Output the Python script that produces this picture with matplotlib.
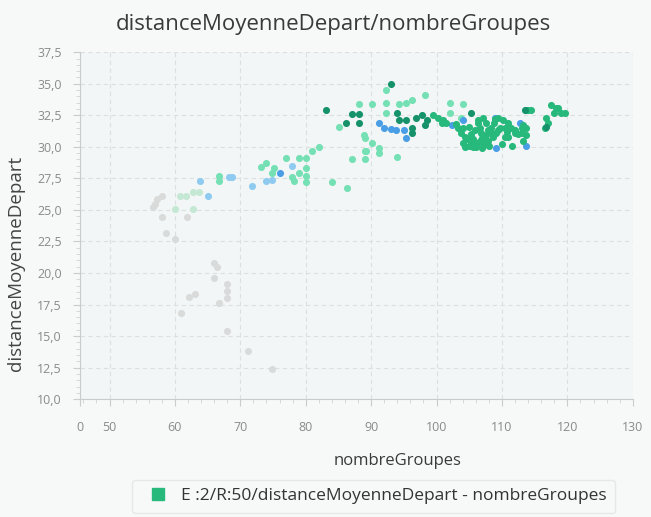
import matplotlib.pyplot as plt
from matplotlib.ticker import MultipleLocator, FuncFormatter

plt.rcParams['font.family'] = ['Open Sans', 'DejaVu Sans']

# nombreGroupes / distanceMoyenneDepart, grouped by point colour
grey_x = [57.2, 58.0, 56.6, 56.9, 58.0, 58.7, 60.0, 61.8, 66.0, 66.5, 66.0,
          68.0, 68.0, 68.0, 66.8, 63.0, 62.1, 61.0, 68.0, 71.1, 74.9]
grey_y = [25.9, 26.1, 25.2, 25.5, 24.4, 23.2, 22.7, 24.4, 20.8, 20.5, 19.6,
          19.1, 18.6, 18.0, 17.6, 18.3, 18.1, 16.8, 15.4, 13.8, 12.4]

pale_x = [60.0, 62.7, 60.8, 61.7, 62.8, 63.7]
pale_y = [25.1, 25.1, 26.1, 26.1, 26.4, 26.4]

lightblue_x = [63.8, 65.0, 68.3, 68.8, 71.8, 74.0, 74.9, 77.9]
lightblue_y = [27.3, 26.1, 27.6, 27.6, 26.9, 27.3, 27.4, 28.5]

blue_x = [76.1, 91.2, 91.9, 93.0, 93.8, 95.0, 95.3, 102.3, 105.2, 109.0,
          109.1, 112.8, 113.6, 104.1]
blue_y = [27.9, 31.9, 31.5, 31.4, 31.3, 31.3, 30.7, 31.7, 30.75, 32.3,
          29.9, 31.9, 30.1, 32.1]

aqua_x = [66.8, 66.8, 73.2, 74.0, 75.2, 74.9, 77.0, 77.9, 78.2, 79.0, 80.0,
          80.0, 80.0, 80.0, 79.0, 81.0, 82.0, 84.0, 86.3, 87.0, 89.0, 89.0,
          89.0, 85.1, 88.1, 90.1, 92.2, 92.2, 92.2, 94.2, 95.4, 96.2, 98.3,
          88.9, 90.1, 89.2, 91.2, 91.2, 93.9, 102.1, 104.1, 102.1, 103.8]
aqua_y = [27.3, 27.7, 28.4, 28.7, 28.3, 27.9, 29.1, 27.6, 27.3, 29.1, 29.1,
          28.3, 27.7, 27.2, 27.9, 29.7, 30.0, 27.2, 26.7, 29.0, 29.7, 29.0,
          30.7, 31.6, 33.4, 33.4, 33.5, 34.5, 32.7, 33.4, 33.45, 33.7, 34.1,
          30.9, 30.3, 29.7, 29.9, 29.5, 29.2, 33.45, 33.4, 32.65, 32.3]

dark_x = [83.1, 86.1, 87.0, 88.1, 88.1, 93.1, 94.0, 94.2, 95.4, 96.8, 97.7,
          98.5, 98.3, 96.2, 96.2, 105.3, 116.8, 113.5]
dark_y = [32.9, 31.9, 32.6, 32.6, 31.9, 35.0, 32.7, 32.1, 32.1, 32.3, 32.5,
          32.1, 31.7, 31.1, 31.5, 32.65, 31.6, 32.9]

green_x = [99.5, 100.8, 101.5, 103.3, 103.8, 104.4, 104.1, 105.3, 105.9,
           106.4, 107.1, 107.6, 107.9, 106.8, 106.7, 107.1, 107.9, 108.4,
           109.4, 110.2, 109.7, 109.1, 108.7, 110.5, 111.0, 111.4, 111.0,
           112.0, 113.2, 113.7, 113.0, 113.6, 114.0, 114.5, 116.6, 116.7,
           117.5, 118.2, 119.0, 118.0, 118.6, 119.6, 117.0, 113.7, 113.2,
           104.9, 106.4, 107.4, 109.0, 109.4, 110.5, 112.0, 113.0, 104.1,
           105.2, 106.0, 107.0, 110.0, 111.5, 108.0, 105.5,
           104.6, 105.6, 106.2, 106.9, 107.6, 108.3, 105.0, 106.6, 108.8,
           104.3, 110.8, 112.4, 103.0, 101.0, 100.2]
green_y = [32.5, 31.9, 31.9, 31.5, 31.1, 30.75, 30.3, 30.3, 31.3, 31.9,
           32.3, 31.9, 31.3, 31.1, 30.5, 30.1, 30.5, 31.5, 32.3, 32.1, 31.5,
           31.1, 30.75, 31.5, 31.9, 31.5, 30.75, 31.1, 31.7, 31.5, 31.1,
           32.9, 32.9, 32.9, 31.5, 32.3, 33.3, 33.05, 32.7, 32.7, 33.1, 32.7,
           31.9, 30.9, 30.5, 30.1, 32.1, 30.35, 32.2, 31.3, 30.75, 31.3,
           31.5, 31.5, 31.0, 30.0, 29.9, 30.2, 30.1, 30.1, 30.0,
           30.6, 30.6, 30.3, 30.7, 30.9, 31.1, 31.6, 31.5, 31.9,
           30.0, 31.2, 31.0, 31.8, 32.1, 32.3]

x_ticks = [45.5, 50, 60, 70, 80, 90, 100, 110, 120, 130]
x_labels = ['0', '50', '60', '70', '80', '90', '100', '110', '120', '130']

fig = plt.figure(figsize=(6.51, 5.17), dpi=100, facecolor='#f7f8f8')
ax = fig.add_axes([0.123, 0.228, 0.849, 0.671])
ax.set_facecolor('#f3f6f6')

s = 26
ax.scatter(grey_x, grey_y, s=s, color='#d9dbdb', linewidths=0)
ax.scatter(pale_x, pale_y, s=s, color='#c4e8d4', linewidths=0)
ax.scatter(lightblue_x, lightblue_y, s=s, color='#8fcaf0', linewidths=0)
ax.scatter(aqua_x, aqua_y, s=s, color='#74e0b4', linewidths=0)
ax.scatter(blue_x, blue_y, s=s, color='#4a9ee6', linewidths=0)
ax.scatter(green_x, green_y, s=s, color='#27b87c', linewidths=0)
ax.scatter(dark_x, dark_y, s=s, color='#15926a', linewidths=0)

ax.set_xlim(45.5, 130)
ax.set_ylim(10, 37.5)
ax.set_xticks(x_ticks)
ax.set_xticklabels(x_labels)
ax.xaxis.set_minor_locator(MultipleLocator(2))
ax.yaxis.set_major_locator(MultipleLocator(2.5))
ax.yaxis.set_minor_locator(MultipleLocator(0.5))
ax.yaxis.set_major_formatter(FuncFormatter(lambda v, p: f'{v:.1f}'.replace('.', ',')))

ax.tick_params(axis='both', which='major', length=5, color='#c8cccc',
               labelsize=9, labelcolor='#8a8a8a', pad=8)
ax.tick_params(axis='x', which='major', pad=11)
ax.tick_params(axis='both', which='minor', length=3, color='#d0d4d4')

for side in ['top', 'right']:
    ax.spines[side].set_visible(False)
for side in ['left', 'bottom']:
    ax.spines[side].set_color('#c8cccc')

ax.grid(True, which='major', linestyle=(0, (4, 3)), color='#dde0e0', linewidth=0.8)
ax.set_axisbelow(True)

ax.set_title('distanceMoyenneDepart/nombreGroupes', fontsize=16, color='#3a3a3a',
             pad=16, x=0.458)
ax.set_xlabel('nombreGroupes', fontsize=12, color='#3a3a3a')
ax.set_ylabel('distanceMoyenneDepart', fontsize=13.5, color='#444444')
ax.xaxis.set_label_coords(0.575, -0.155)
ax.yaxis.set_label_coords(-0.1, 0.39)

handle = plt.Line2D([], [], marker='s', linestyle='', markersize=9,
                    color='#27b87c')
fig.legend([handle], ['E :2/R:50/distanceMoyenneDepart - nombreGroupes'],
           loc='center', bbox_to_anchor=(0.574, 0.04), fontsize=12.5,
           frameon=True, edgecolor='#e2e4e4', facecolor='#f7f8f8',
           handletextpad=0.3, borderpad=0.5, labelcolor='#333333')

plt.savefig('out.png', dpi=100, facecolor=fig.get_facecolor())
